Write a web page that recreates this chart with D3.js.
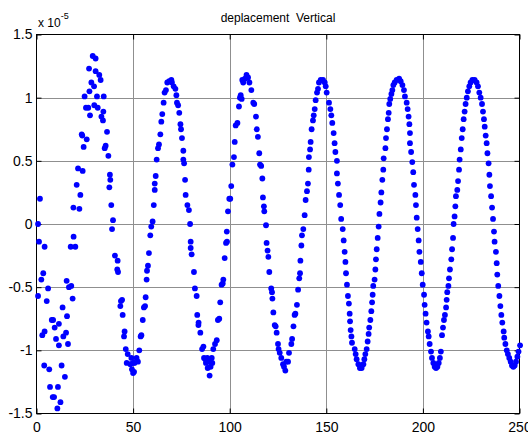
<!DOCTYPE html>
<html>
<head>
<meta charset="utf-8">
<script src="https://cdn.jsdelivr.net/npm/d3@7"></script>
<style>
  html, body { margin: 0; padding: 0; background: #fff; }
  svg { display: block; font-family: "Liberation Sans", Arial, Helvetica, sans-serif; }
</style>
</head>
<body>
<svg id="chart" width="528" height="434"></svg>
<script>
// Time step of each sample
const t = [
  0.8, 1.3, 1.8, 0.8, 2.5, 3.5, 4.2, 3.0, 4.2, 4.0, 5.3, 6.0, 6.6, 7.0, 7.9, 8.6, 8.4, 9.1, 9.4, 10.1,
  10.8, 11.1, 11.6, 11.6, 12.4, 13.0, 13.5, 13.9, 14.7, 15.3, 15.6, 15.8, 16.3, 16.8, 17.7, 18.0, 18.7, 19.1, 19.2, 20.1,
  20.8, 21.5, 22.2, 22.7, 23.4, 23.7, 23.9, 24.4, 24.9, 25.6, 26.0, 26.8, 27.2, 27.4, 27.7, 28.4, 29.1, 29.8, 29.9, 30.6,
  30.6, 31.3, 31.7, 32.5, 33.2, 33.6, 34.4, 34.6, 34.8, 35.3, 35.8, 36.5, 37.2, 37.7, 38.0, 38.2, 38.7, 39.1, 39.6, 40.6,
  42.0, 41.8, 42.2, 43.7, 44.3, 43.4, 44.6, 45.6, 45.3, 46.2, 47.2, 46.7, 48.6, 49.1, 49.4, 49.9, 50.0, 50.5, 50.7, 51.8,
  52.5, 53.2, 53.9, 54.3, 55.0, 55.6, 56.2, 56.5, 57.0, 57.2, 57.7, 58.2, 58.9, 59.4, 60.1, 60.7, 61.2, 61.2, 61.7, 62.2,
  62.9, 63.4, 64.1, 64.6, 65.1, 65.8, 66.3, 67.0, 67.7, 68.7, 69.8, 70.1, 71.0, 71.9, 72.4, 72.7, 73.3, 73.9, 74.5, 74.8,
  75.3, 76.0, 76.0, 76.4, 76.9, 77.2, 78.1, 78.9, 79.5, 79.8, 79.8, 80.3,
  81.5, 82.0, 82.9, 83.2, 83.9, 83.8, 84.8, 85.7, 86.4, 86.7, 87.4, 88.4, 87.7, 88.6, 89.6, 89.8, 90.7, 91.0, 90.1, 91.5,
  92.4, 93.3, 93.9, 94.6, 95.1, 95.8, 96.4, 96.7, 97.4, 98.1, 98.6, 98.5, 99.1, 99.8, 100.3, 100.8, 101.4, 102.2, 102.6, 103.1,
  104.0, 104.8, 105.3, 106.2, 105.7, 106.5, 107.0, 107.9, 108.7, 109.5, 110.2, 111.2, 112.2, 112.7, 113.6, 114.0, 114.6, 115.3, 115.7, 116.3,
  116.9, 117.2, 117.7, 117.9, 118.8, 119.1, 119.6, 120.0, 120.5,
  121.5, 121.9, 122.1, 122.6, 123.3, 123.8, 124.3, 125.0, 125.3, 125.9, 126.7, 127.6, 128.1, 128.8, 129.3, 130.2, 130.7, 131.9, 132.3, 133.0,
  133.6, 134.0, 134.8, 135.4, 136.0, 136.4, 136.6, 137.1, 137.4, 138.1, 138.8, 139.3, 140.0, 140.5, 140.9, 141.0, 141.6, 141.9, 142.4, 143.1,
  143.5, 144.0, 144.5, 145.2, 145.7, 146.2, 147.1, 148.3, 149.2, 149.7, 150.2, 151.4, 152.1, 152.6, 153.1, 153.8, 154.3, 154.7, 155.5, 155.5,
  156.0, 156.6, 157.2, 157.7, 158.5, 159.0, 159.5, 159.9, 160.2, 160.7, 161.2, 161.7, 162.1, 162.3, 162.6, 163.0, 163.3,
  164.7, 165.2, 165.7, 166.6, 167.4, 168.3, 169.2, 169.7, 170.2, 170.9, 171.4, 171.9, 172.2, 172.8, 173.3, 173.7, 174.0, 174.3, 175.0, 175.4,
  175.7, 176.1, 176.6, 177.1, 177.5, 178.1, 178.5, 179.0, 179.5, 179.7, 180.6, 180.9, 181.4, 181.9, 182.3, 182.6, 183.1, 183.7, 184.2, 184.7,
  185.4, 186.4, 187.7, 188.5, 189.4, 190.2, 190.7, 191.6, 192.1, 192.6, 193.0, 193.3, 193.3, 193.9, 194.5, 195.0, 195.4, 196.1, 196.4, 196.8,
  197.3, 197.8, 198.2, 198.9, 199.4, 199.9, 200.6, 200.9, 201.4, 201.9, 202.6, 203.0, 203.5, 204.2, 204.7, 205.4, 206.1,
  206.8, 207.5, 208.2, 208.8, 209.3, 209.9, 210.4, 210.9, 211.4, 212.0, 212.3, 212.6, 213.2, 213.5, 214.0, 214.7, 215.1, 215.6, 215.9, 216.4,
  216.8, 217.1, 217.8, 218.2, 218.7, 219.0, 219.6, 220.1, 220.6, 221.1, 221.6, 222.1, 222.7, 223.3, 224.0, 224.7, 225.6, 226.8, 227.8, 228.5,
  229.2, 229.9, 230.6, 231.1, 231.6, 232.0, 232.5, 233.0, 233.4, 234.0, 234.4, 234.7, 235.3, 235.8, 236.3, 236.8, 237.1, 237.8, 238.2, 238.5,
  239.0, 239.6, 240.1, 240.6, 241.1, 241.8, 242.1, 242.7, 243.4, 244.0, 244.7, 245.4, 246.1, 246.8, 247.5, 248.2, 248.9, 249.5, 250.3
];

// Vertical displacement (x 1e-5)
const uy = [
  0.00, -0.14, 0.20, -0.57, -0.44, -0.39, -0.18, -0.88, -0.85, -1.12, -0.61, -0.51, -1.15, -1.29, -0.76, -0.76, -1.37, -1.37, -0.82, -0.91,
  -1.46, -1.29, -0.79, -0.96, -1.41, -1.12, -0.66, -0.89, -1.21, -0.86, -0.45, -0.73, -0.95, -0.50, -0.18, -0.49, -0.59, 0.13, -0.10, -0.18,
  0.31, 0.44, 0.12, 0.23, 0.71, 0.70, 0.42, 0.61, 1.01, 0.92, 0.67, 0.92, 1.23, 1.05, 0.86, 1.12, 1.33, 1.09, 0.94, 1.31,
  1.21, 1.01, 0.92, 1.18, 1.14, 0.85, 0.82, 0.89, 1.01, 0.60, 0.62, 0.73, 0.54, 0.29, 0.39, 0.35, 0.15, -0.04, 0.03, -0.25,
  -0.29, -0.36, -0.38, -0.61, -0.60, -0.65, -0.72, -0.85, -0.89, -0.99, -1.03, -1.10, -1.11, -1.06, -1.15, -1.10, -1.18, -1.17, -1.10, -1.06,
  -1.09, -1.00, -0.89, -0.88, -0.76, -0.66, -0.65, -0.58, -0.44, -0.37, -0.33, -0.23, -0.09, -0.02, 0.02, 0.15, 0.27, 0.32, 0.38, 0.51,
  0.60, 0.63, 0.71, 0.81, 0.87, 0.96, 1.04, 1.06, 1.12, 1.13, 1.14, 1.12, 1.09, 1.07, 1.02, 0.96, 0.94, 0.88, 0.79, 0.75,
  0.68, 0.58, 0.51, 0.48, 0.35, 0.23, 0.15, 0.11, 0.00, -0.14, -0.19, -0.24,
  -0.38, -0.51, -0.57, -0.72, -0.78, -0.80, -0.86, -0.99, -0.97, -1.06, -1.07, -1.06, -1.10, -1.14, -1.20, -1.09, -1.06, -1.10, -1.13, -0.99,
  -0.95, -0.92, -0.76, -0.75, -0.62, -0.48, -0.47, -0.44, -0.27, -0.15, -0.14, -0.06, 0.10, 0.20, 0.20, 0.30, 0.47, 0.53, 0.65, 0.78,
  0.80, 0.93, 1.00, 0.99, 1.02, 1.14, 1.12, 1.15, 1.18, 1.16, 1.12, 1.06, 0.96, 0.95, 0.85, 0.75, 0.69, 0.56, 0.47, 0.46,
  0.36, 0.21, 0.14, 0.10, -0.01, -0.15, -0.21, -0.26, -0.38,
  -0.51, -0.54, -0.59, -0.70, -0.80, -0.81, -0.86, -0.95, -0.99, -1.02, -1.06, -1.11, -1.13, -1.16, -1.09, -1.09, -1.02, -0.95, -0.91, -0.81,
  -0.72, -0.71, -0.64, -0.52, -0.43, -0.39, -0.29, -0.17, -0.09, -0.04, 0.07, 0.19, 0.26, 0.32, 0.43, 0.53, 0.59, 0.65, 0.75, 0.82,
  0.86, 0.91, 0.98, 1.04, 1.07, 1.12, 1.14, 1.14, 1.12, 1.09, 1.04, 0.96, 0.91, 0.86, 0.80, 0.72, 0.64, 0.57, 0.50, 0.40,
  0.32, 0.23, 0.15, 0.04, -0.04, -0.13, -0.22, -0.30, -0.39, -0.48, -0.57, -0.63, -0.71, -0.77, -0.84, -0.89, -0.94,
  -0.99, -1.03, -1.07, -1.11, -1.14, -1.14, -1.11, -1.07, -1.03, -0.99, -0.93, -0.87, -0.82, -0.76, -0.69, -0.62, -0.56, -0.49, -0.44, -0.36,
  -0.28, -0.20, -0.11, -0.02, 0.08, 0.17, 0.25, 0.35, 0.43, 0.52, 0.60, 0.68, 0.75, 0.83, 0.88, 0.95, 0.99, 1.03, 1.06, 1.10,
  1.12, 1.14, 1.15, 1.13, 1.10, 1.06, 1.01, 0.96, 0.91, 0.85, 0.79, 0.72, 0.64, 0.57, 0.49, 0.41, 0.31, 0.23, 0.15, 0.05,
  -0.04, -0.13, -0.22, -0.30, -0.39, -0.48, -0.56, -0.64, -0.71, -0.78, -0.85, -0.89, -0.95, -1.01, -1.06, -1.10, -1.13,
  -1.14, -1.13, -1.10, -1.06, -1.01, -0.88, -0.82, -0.76, -0.72, -0.66, -0.60, -0.54, -0.49, -0.43, -0.36, -0.28, -0.20, -0.11, 0.00, 0.06,
  0.14, 0.22, 0.27, 0.34, 0.43, 0.51, 0.59, 0.68, 0.75, 0.83, 0.89, 0.95, 1.00, 1.05, 1.09, 1.12, 1.14, 1.14, 1.12, 1.09,
  1.04, 1.00, 0.95, 0.89, 0.83, 0.77, 0.70, 0.64, 0.56, 0.48, 0.39, 0.30, 0.22, 0.13, 0.04, -0.06, -0.14, -0.22, -0.31, -0.40,
  -0.49, -0.57, -0.65, -0.72, -0.78, -0.85, -0.90, -0.95, -1.00, -1.03, -1.06, -1.09, -1.12, -1.13, -1.12, -1.09, -1.05, -1.01, -0.96
];

const xTicks = [0, 50, 100, 150, 200, 250];
const yTicks = [-1.5, -1, -0.5, 0, 0.5, 1, 1.5];
const yTickLabels = ["-1.5", "-1", "-0.5", "0", "0.5", "1", "1.5"];
const titleText = "deplacement  Vertical";

const svg = d3.select("#chart");
const plot = { left: 36.5, right: 519.5, top: 34.5, bottom: 413.5 };

const x = d3.scaleLinear().domain([0, 250]).range([plot.left, plot.right]);
const y = d3.scaleLinear().domain([-1.5, 1.5]).range([plot.bottom, plot.top]);

// grid
const grid = svg.append("g").attr("stroke", "#8f8f8f").attr("stroke-width", 1);
grid.selectAll(".gx").data(xTicks.slice(1, -1)).join("line")
  .attr("x1", d => Math.round(x(d)) + 0.5).attr("x2", d => Math.round(x(d)) + 0.5)
  .attr("y1", plot.top).attr("y2", plot.bottom);
grid.selectAll(".gy").data(yTicks.slice(1, -1)).join("line")
  .attr("y1", d => Math.round(y(d)) + 0.5).attr("y2", d => Math.round(y(d)) + 0.5)
  .attr("x1", plot.left).attr("x2", plot.right);

// axes (ticks pointing inward, labels outside)
const fontSize = 14;
const xAxis = d3.axisBottom(x).tickValues(xTicks).tickSizeInner(-5).tickSizeOuter(0).tickPadding(9);
const yAxis = d3.axisLeft(y).tickValues(yTicks).tickFormat((d, i) => yTickLabels[i]).tickSizeInner(-5).tickSizeOuter(0).tickPadding(4);
const xTop = d3.axisTop(x).tickValues(xTicks).tickSizeInner(-5).tickSizeOuter(0).tickFormat("");
const yRight = d3.axisRight(y).tickValues(yTicks).tickSizeInner(-5).tickSizeOuter(0).tickFormat("");

function styleAxis(g) {
  g.select(".domain").remove();
  g.selectAll("line").attr("stroke", "#000");
  g.selectAll("text").attr("fill", "#000").attr("font-size", fontSize)
    .attr("font-family", "'Liberation Sans', Arial, sans-serif");
}
svg.append("g").attr("transform", `translate(0,${plot.bottom})`).call(xAxis).call(styleAxis);
svg.append("g").attr("transform", `translate(${plot.left},0)`).call(yAxis).call(styleAxis);
svg.append("g").attr("transform", `translate(0,${plot.top})`).call(xTop).call(styleAxis);
svg.append("g").attr("transform", `translate(${plot.right},0)`).call(yRight).call(styleAxis);

// frame
svg.append("rect")
  .attr("x", plot.left).attr("y", plot.top)
  .attr("width", plot.right - plot.left).attr("height", plot.bottom - plot.top)
  .attr("fill", "none").attr("stroke", "#000").attr("stroke-width", 1);

// samples
svg.append("g").attr("fill", "#0000ff")
  .selectAll("circle").data(d3.range(t.length)).join("circle")
  .attr("cx", i => x(t[i]))
  .attr("cy", i => y(uy[i]))
  .attr("r", 2.9);

// exponent label
const expo = svg.append("text").attr("x", 38).attr("y", 27)
  .attr("font-size", 12).attr("fill", "#000");
expo.append("tspan").text("x 10");
expo.append("tspan").attr("dy", -8).attr("font-size", 9).text("-5");

// title
svg.append("text").attr("x", (plot.left + plot.right) / 2).attr("y", 22)
  .attr("text-anchor", "middle").attr("font-size", 12).attr("fill", "#000")
  .attr("xml:space", "preserve").style("white-space", "pre")
  .text(titleText);
</script>
</body>
</html>
